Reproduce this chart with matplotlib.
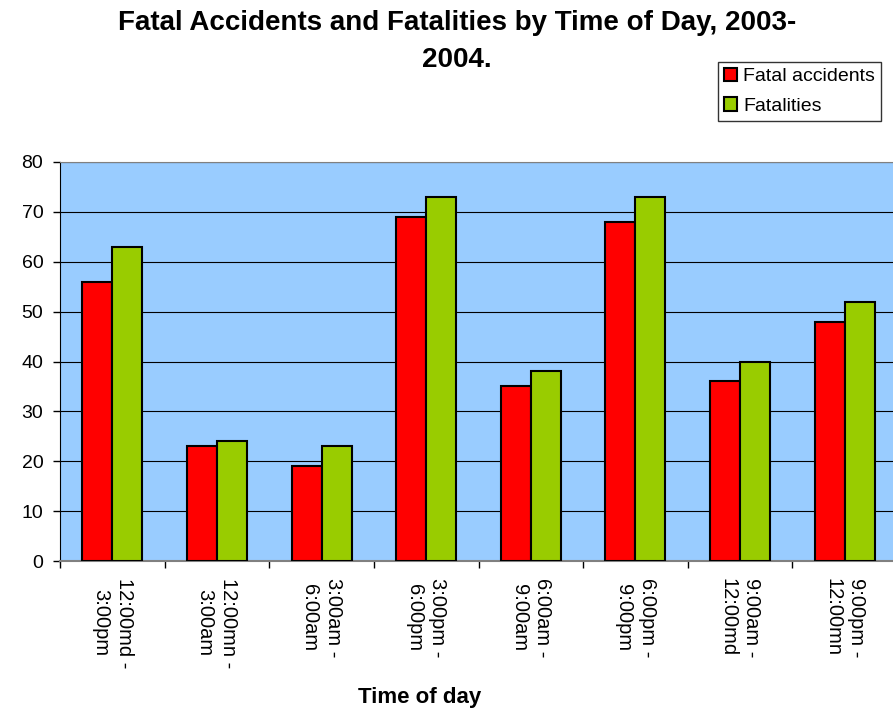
import matplotlib.pyplot as plt
import numpy as np

plt.rcParams['font.family'] = ['Liberation Sans', 'DejaVu Sans']

periods = ["12:00md -\n3:00pm", "12:00mn -\n3:00am", "3:00am -\n6:00am", "3:00pm -\n6:00pm",
           "6:00am -\n9:00am", "6:00pm -\n9:00pm", "9:00am -\n12:00md", "9:00pm -\n12:00mn"]
fatal_accidents = [56, 23, 19, 69, 35, 68, 36, 48]
fatalities = [63, 24, 23, 73, 38, 73, 40, 52]

W, H = 893, 711
fig = plt.figure(figsize=(W/100, H/100), dpi=100)
ax = fig.add_axes([60/W, 1 - 561/H, 837/W, 399/H])
ax.set_facecolor('#99CCFF')

x = np.arange(len(periods))
width = 0.287
ax.bar(x - width/2, fatal_accidents, width, color='#FF0000', edgecolor='black', linewidth=1.5,
       label="Fatal accidents", zorder=3)
ax.bar(x + width/2, fatalities, width, color='#99CC00', edgecolor='black', linewidth=1.5,
       label="Fatalities", zorder=3)

ax.set_xlim(-0.5, len(periods) - 0.5)
ax.set_ylim(0, 80)
ax.set_yticks(range(0, 81, 10))
ax.yaxis.grid(True, color='black', linewidth=0.8, zorder=1)
ax.tick_params(axis='y', labelsize=14, length=5, direction='out', width=1, pad=7)

# category boundaries get the tick marks, labels sit at the centres
ax.set_xticks(np.arange(-0.5, len(periods), 1))
ax.set_xticklabels([])
ax.tick_params(axis='x', length=5, width=1, direction='out')
ax.set_xticks(x, minor=True)
ax.set_xticklabels(periods, minor=True, rotation=270, fontsize=14.5, va='top', ha='center',
                   linespacing=1.3)
ax.tick_params(axis='x', which='minor', length=0, pad=12)

for s in ['top', 'right']:
    ax.spines[s].set_color('#808080')
ax.spines['left'].set_color('black')
ax.spines['bottom'].set_color('#808080')
ax.spines['bottom'].set_linewidth(1.5)

fig.text(457/W, 1 - 30/H, "Fatal Accidents and Fatalities by Time of Day, 2003-", ha='center',
         va='baseline', fontsize=20, fontweight='bold')
fig.text(457/W, 1 - 67/H, "2004.", ha='center', va='baseline', fontsize=20, fontweight='bold')
fig.text(420/W, 1 - 703/H, "Time of day", ha='center', va='baseline', fontsize=16, fontweight='bold')

leg = fig.legend(loc='upper left', bbox_to_anchor=(718/W, 1 - 62/H), fontsize=14,
                 frameon=True, fancybox=False, edgecolor='black', handlelength=0.7,
                 handleheight=0.7, handletextpad=0.3, borderpad=0.3, labelspacing=0.6,
                 borderaxespad=0)
leg.get_frame().set_linewidth(1)

fig.savefig('out.png', dpi=100, facecolor='white')
